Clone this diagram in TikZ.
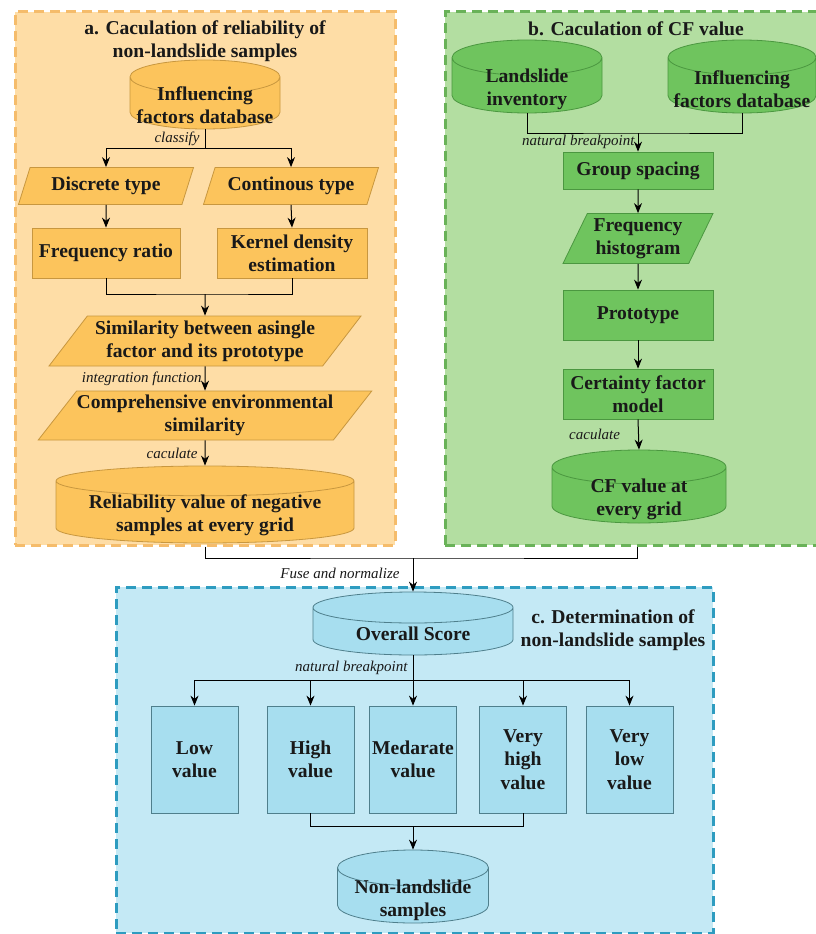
\documentclass[tikz,border=0pt]{standalone}
\usepackage{fontspec}
\setmainfont{Liberation Serif}
\usetikzlibrary{shapes.geometric,arrows.meta}

\definecolor{orpanel}{HTML}{FEDDA6}
\definecolor{ordash}{HTML}{F5BC6B}
\definecolor{ornode}{HTML}{FCC45C}
\definecolor{orline}{HTML}{C8973F}
\definecolor{grpanel}{HTML}{B3DEA1}
\definecolor{grdash}{HTML}{69B258}
\definecolor{grnode}{HTML}{6FC45E}
\definecolor{grline}{HTML}{4B9740}
\definecolor{blpanel}{HTML}{C4E9F5}
\definecolor{bldash}{HTML}{2E9CC0}
\definecolor{blnode}{HTML}{A7DEEF}
\definecolor{blline}{HTML}{4F7F8C}

\begin{document}
\begin{tikzpicture}[x=1pt, y=-1pt,
  every node/.style={font=\fontsize{19.6}{23.3}\selectfont\bfseries, text=black!90, align=center, inner sep=0pt},
  panel/.style={line width=3pt, dash pattern=on 10pt off 6pt},
  box/.style={draw, line width=0.8pt, minimum width=150pt, minimum height=50pt},
  para/.style 2 args={trapezium, trapezium left angle=#1, trapezium right angle=#2,
    trapezium stretches body, draw, line width=0.8pt},
  cyl/.style 2 args={cylinder, shape border rotate=90, aspect=#1, text width=#2, minimum width=#2,
    anchor=shape center, draw, line width=0.8pt},
  lbl/.style={font=\fontsize{15}{18}\selectfont\itshape},
  ln/.style={line width=1pt},
  arr/.style={ln, -{Stealth[length=10pt, width=8pt]}}]
\useasboundingbox (0,0) rectangle (815,934);

% panels
\node[panel, fill=orpanel, draw=ordash, minimum width=380pt, minimum height=533pt] (pa) at (205,278.5) {};
\node[panel, fill=grpanel, draw=grdash, minimum width=384pt, minimum height=533pt] (pb) at (637,278.5) {};
\node[panel, fill=blpanel, draw=bldash, minimum width=597pt, minimum height=346pt] (pc) at (414.5,760) {};

% a. reliability
\node (ta) at (205,41.5) {a. Caculation of reliability of\\non-landslide samples};
\node[cyl={0.225}{150pt}, fill=ornode, draw=orline, minimum height=69pt] (a1) at (205,94.5) {};
\node (a1t) at ([yshift=-10.5pt]a1.shape center) {Influencing\\factors database};
\node[para={57}{123}, fill=ornode, draw=orline, minimum width=175pt, minimum height=37pt] (d1) at (106,186) {Discrete type};
\node[para={57}{123}, fill=ornode, draw=orline, minimum width=175pt, minimum height=37pt] (d2) at (291,186) {Continous type};
\node[box, fill=ornode, draw=orline, minimum width=148pt] (f1) at (106,253) {Frequency ratio};
\node[box, fill=ornode, draw=orline] (f2) at (292,253) {Kernel density\\estimation};
\node[para={47}{133}, fill=ornode, draw=orline, minimum width=312pt, minimum height=50pt] (s1) at (205,341) {Similarity between asingle\\factor and its prototype};
\node[para={47}{133}, fill=ornode, draw=orline, minimum width=323pt, minimum height=49pt] (s2) at (205,415.5) {Comprehensive environmental\\similarity};
\node[cyl={0.1}{298pt}, fill=ornode, draw=orline, minimum height=77pt] (r1) at (205,504.5) {};
\node (r1t) at ([yshift=-10.5pt]r1.shape center) {Reliability value of negative\\samples at every grid};

\coordinate (a1b) at (205,148);
\coordinate (m1) at (205,294);
\draw[ln] (a1.south) -- node[lbl, left, xshift=-5pt] {classify} (a1b);
\draw[arr] (a1b) -| (d1.north);
\draw[arr] (a1b) -| (d2.north);
\draw[arr] (d1.south) -- (f1.north);
\draw[arr] (d2.south) -- (f2.north);
\draw[ln] (f1.south) |- (m1) -| (f2.south);
\draw[arr] (m1) -- (s1.north);
\draw[arr] (s1.south) -- node[lbl, left, xshift=-3pt] {integration function} (s2.north);
\draw[arr] (s2.south) -- node[lbl, left, xshift=-7pt] {caculate} (r1.north);

% b. CF value
\node (tb) at (636,28.5) {b. Caculation of CF value};
\node[cyl={0.235}{150pt}, fill=grnode, draw=grline, minimum height=73pt] (b1) at (527,76.5) {};
\node (b1t) at ([yshift=-13pt]b1.shape center) {Landslide\\inventory};
\node[cyl={0.235}{148pt}, fill=grnode, draw=grline, minimum height=73pt] (b2) at (742,76.5) {};
\node (b2t) at ([yshift=-13pt]b2.shape center) {Influencing\\factors database};
\node[box, fill=grnode, draw=grline, minimum height=37pt] (g1) at (638,170.5) {Group spacing};
\node[para={59}{121}, fill=grnode, draw=grline, minimum width=150pt, minimum height=50pt] (g2) at (638,238.5) {Frequency\\histogram};
\node[box, fill=grnode, draw=grline] (g3) at (638,315) {Prototype};
\node[box, fill=grnode, draw=grline] (g4) at (638,394) {Certainty factor\\model};
\node[cyl={0.195}{174pt}, fill=grnode, draw=grline, minimum height=73pt] (g5) at (639,486.5) {};
\node (g5t) at ([yshift=-13pt]g5.shape center) {CF value at\\every grid};

\coordinate (j1) at (638,133);
\draw[ln] (b1.south) |- (j1) -| (b2.south);
\draw[arr] (j1) -- node[lbl, left, xshift=-3pt] {natural breakpoint} (g1.north);
\draw[arr] (g1.south) -- (g2.north);
\draw[arr] (g2.south) -- (g3.north);
\draw[arr] (g3.south) -- (g4.north);
\draw[arr] (g4.south) -- node[lbl, left, xshift=-18pt] {caculate} (g5.north);

% fuse both results
\coordinate (fuse) at (413,558);
\draw[ln] (pa.south) |- (fuse) -| (pb.south);

% c. non-landslide samples
\node (tc) at (613,630.5) {c. Determination of\\non-landslide samples};
\node[cyl={0.155}{200pt}, fill=blnode, draw=blline, minimum height=63pt] (c1) at (413,623.5) {};
\node (c1t) at ([yshift=-10.5pt]c1.shape center) {Overall Score};
\draw[arr] (fuse) -- node[lbl, left, xshift=-13pt, pos=0.45] {Fuse and normalize} (c1.north);

\node[box, fill=blnode, draw=blline, minimum width=87pt, minimum height=107pt] (v1) at (194.5,759.5) {Low\\value};
\node[box, fill=blnode, draw=blline, minimum width=87pt, minimum height=107pt] (v2) at (310.5,759.5) {High\\value};
\node[box, fill=blnode, draw=blline, minimum width=87pt, minimum height=107pt] (v3) at (413,759.5) {Medarate\\value};
\node[box, fill=blnode, draw=blline, minimum width=87pt, minimum height=107pt] (v4) at (523,759.5) {Very\\high\\value};
\node[box, fill=blnode, draw=blline, minimum width=87pt, minimum height=107pt] (v5) at (629.5,759.5) {Very\\low\\value};
\node[cyl={0.235}{151pt}, fill=blnode, draw=blline, minimum height=73pt] (c2) at (413,886.5) {};
\node (c2t) at ([yshift=-14pt]c2.shape center) {Non-landslide\\samples};

\coordinate (k1) at (413,680);
\coordinate (k2) at (413,826);
\draw[ln] (c1.south) -- node[lbl, left, xshift=-5pt] {natural breakpoint} (k1);
\foreach \v in {v1,v2,v3,v4,v5}
  \draw[arr] (k1) -| (\v.north);
\draw[ln] (v2.south) |- (k2) -| (v4.south);
\draw[arr] (k2) -- (c2.north);
\end{tikzpicture}
\end{document}
